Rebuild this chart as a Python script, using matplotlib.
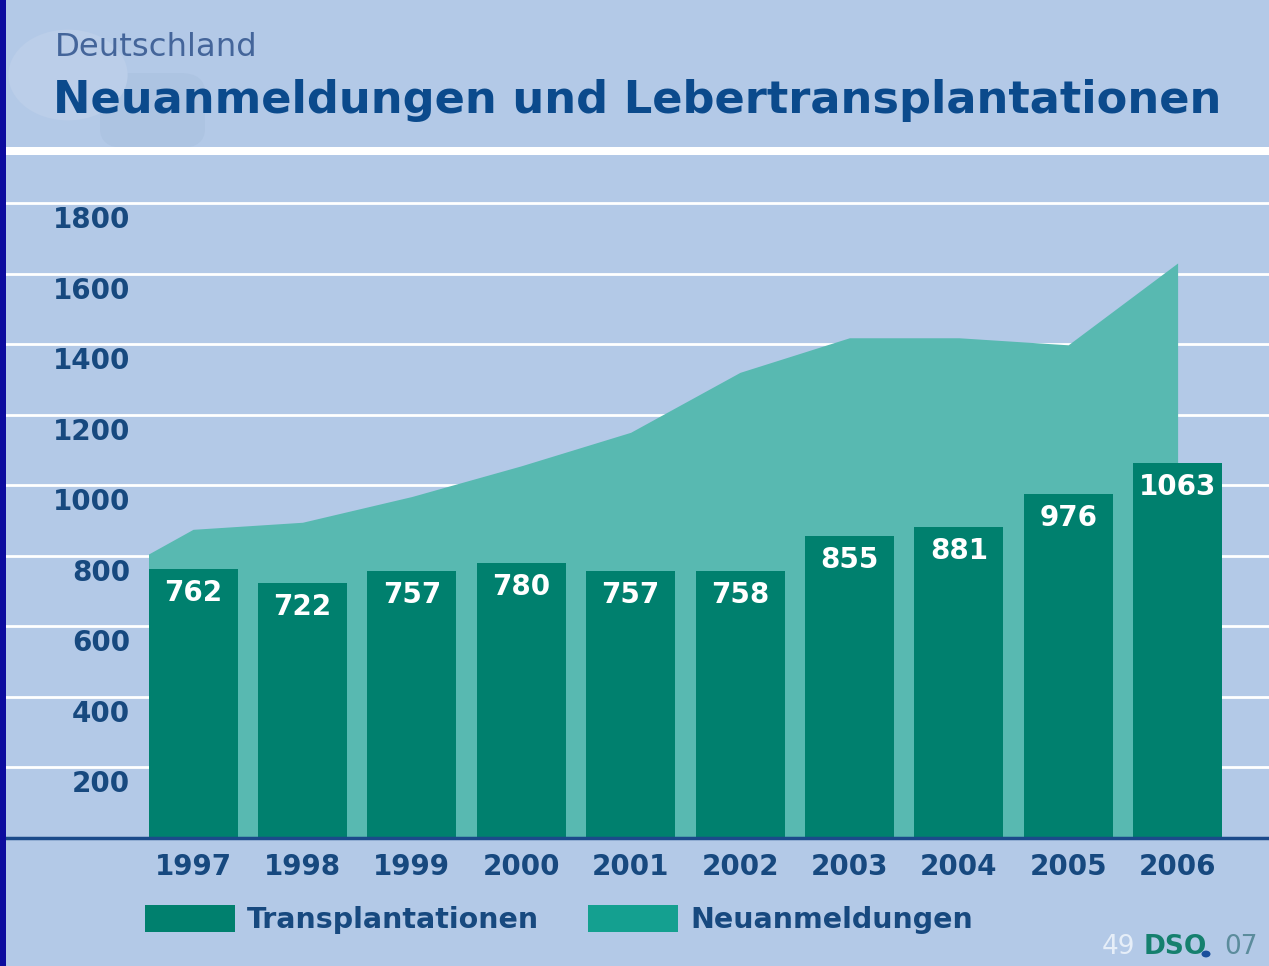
import matplotlib
matplotlib.use("Agg")
import matplotlib.pyplot as plt
from matplotlib.patches import Rectangle, Circle, FancyBboxPatch

# ---- data ----
years = ["1997", "1998", "1999", "2000", "2001", "2002", "2003", "2004", "2005", "2006"]
transplantationen = [762, 722, 757, 780, 757, 758, 855, 881, 976, 1063]
neuanmeldungen = [875, 895, 968, 1055, 1150, 1320, 1418, 1418, 1398, 1630]
neuanmeldungen_start = 805
y_ticks = [200, 400, 600, 800, 1000, 1200, 1400, 1600, 1800]

title_small = "Deutschland"
title_big = "Neuanmeldungen und Lebertransplantationen"
legend_labels = ["Transplantationen", "Neuanmeldungen"]

# ---- style ----
W, H = 1269, 966
BG = "#b3c9e7"
BAR = "#00806e"
AREA = "#58b9b1"
LEG2 = "#14a090"
TXT = "#17497f"

fig = plt.figure(figsize=(W / 100, H / 100), dpi=100)
fig.patch.set_facecolor(BG)

def fx(x):
    return x / W

def fy(y):
    return 1 - y / H

# faint logo in top-left
fig.patches.append(FancyBboxPatch((fx(100), fy(148)), fx(105), 75 / H,
                                  boxstyle="round,pad=0,rounding_size=0.02",
                                  transform=fig.transFigure,
                                  facecolor="#adc4e2", edgecolor="none", zorder=0))
fig.patches.append(Circle((fx(68), fy(75)), 0.047, transform=fig.transFigure,
                          facecolor="#bbcee9", edgecolor="none", zorder=0))

# left dark-blue strip
fig.patches.append(Rectangle((0, 0), fx(6), 1, transform=fig.transFigure,
                             facecolor="#0c0c9e", edgecolor="none", zorder=5))
# white separator line
fig.patches.append(Rectangle((fx(6), fy(155)), 1, 8 / H, transform=fig.transFigure,
                             facecolor="white", edgecolor="none", zorder=1))

fig.text(fx(55), fy(48), title_small, fontsize=23.3, color="#44659a",
         ha="left", va="center", family="DejaVu Sans")
fig.text(fx(53), fy(101), title_big, fontsize=32.2, color="#0b4a8c",
         ha="left", va="center", fontweight="bold", family="DejaVu Sans")

# ---- axes ----
y0_px, scale = 838, 635 / 1800
ymax = 1900
top_px = y0_px - ymax * scale
ax = fig.add_axes([0, fy(y0_px), 1, (y0_px - top_px) / H])
ax.set_facecolor("none")
xc0, step = 193, 109.4
ax.set_xlim(-xc0 / step, (W - xc0) / step)
ax.set_ylim(0, ymax)
for s in ax.spines.values():
    s.set_visible(False)
ax.set_xticks([])
ax.set_yticks([])

for t in y_ticks:
    ax.axhline(t, color="white", lw=2, zorder=1)
    ax.annotate(str(t), xy=(130 / W, t), xycoords=("axes fraction", "data"),
                xytext=(0, -17), textcoords="offset pixels",
                ha="right", va="center", fontsize=20, fontweight="bold", color=TXT)

bw = 89 / step
x = list(range(len(years)))
ax.fill_between([-bw / 2] + x, [neuanmeldungen_start] + neuanmeldungen, 0,
                color=AREA, lw=0, zorder=2)
ax.bar(x, transplantationen, width=bw, color=BAR, zorder=3)
for i, v in enumerate(transplantationen):
    ax.annotate(str(v), xy=(i, v), xytext=(0, -24), textcoords="offset pixels",
                ha="center", va="center", fontsize=20, fontweight="bold", color="white", zorder=4)
    ax.annotate(years[i], xy=(i, 0), xytext=(0, -29), textcoords="offset pixels",
                ha="center", va="center", fontsize=20, fontweight="bold", color=TXT)

ax.axhline(0, color="#1b4a8a", lw=2.5, zorder=5, clip_on=False)

# ---- legend ----
fig.patches.append(Rectangle((fx(145), fy(932)), fx(90), 27 / H, transform=fig.transFigure,
                             facecolor=BAR, edgecolor="none"))
fig.text(fx(247), fy(920), legend_labels[0], fontsize=20.5, fontweight="bold", color=TXT,
         ha="left", va="center")
fig.patches.append(Rectangle((fx(588), fy(932)), fx(90), 27 / H, transform=fig.transFigure,
                             facecolor=LEG2, edgecolor="none"))
fig.text(fx(690), fy(920), legend_labels[1], fontsize=20.5, fontweight="bold", color=TXT,
         ha="left", va="center")

# ---- footer ----
fig.text(fx(1102), fy(947), "49", fontsize=19, color="#e6eef8", ha="left", va="center")
fig.text(fx(1144), fy(947), "DSO", fontsize=19, fontweight="bold", color="#15806e",
         ha="left", va="center")
fig.patches.append(Circle((fx(1206), fy(954)), 4.5 / W, transform=fig.transFigure,
                          facecolor="#1a4f9c", edgecolor="none", zorder=3))
fig.text(fx(1258), fy(947), "07", fontsize=19, color="#5b8c9c", ha="right", va="center")

fig.savefig("out.png", dpi=100, facecolor=BG)
